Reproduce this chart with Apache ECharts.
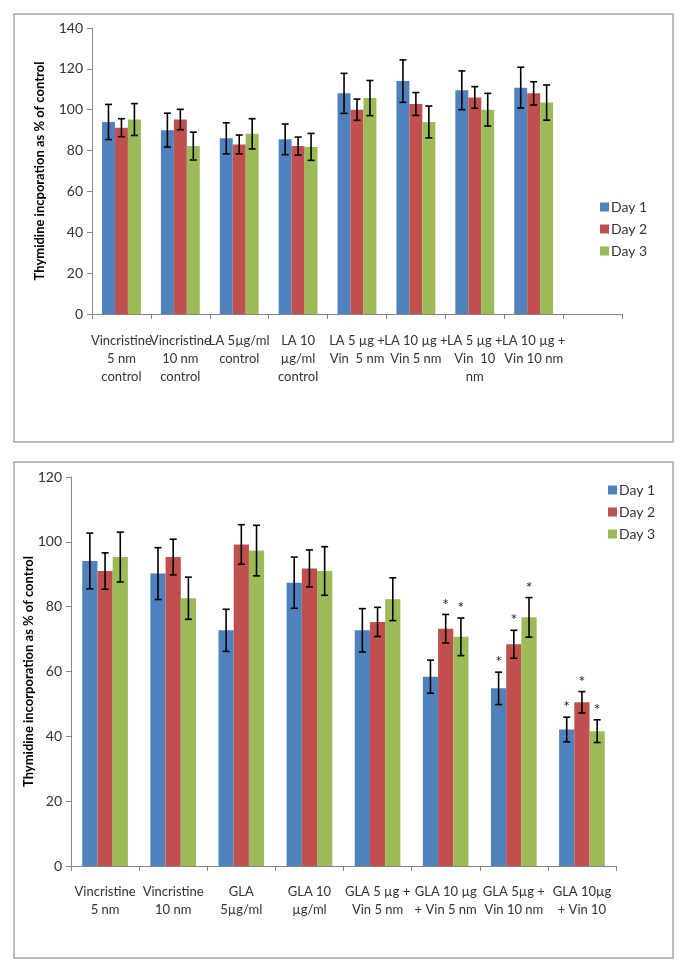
<!DOCTYPE html>
<html>
<head>
<meta charset="utf-8">
<script src="https://cdn.jsdelivr.net/npm/echarts@6/dist/echarts.min.js"></script>
<style>
html,body{margin:0;padding:0;background:#fff;}
#c{width:685px;height:971px;}
</style>
</head>
<body>
<div id="c"></div>
<script>
// ---------- Top chart (LA) ----------
const topCategories = [
  'Vincristine\n5 nm\ncontrol', 'Vincristine\n10 nm\ncontrol', 'LA 5µg/ml\ncontrol', 'LA 10\nµg/ml\ncontrol',
  'LA 5 µg +\nVin  5 nm', 'LA 10 µg +\nVin 5 nm', 'LA 5 µg +\nVin  10\nnm', 'LA 10 µg +\nVin 10 nm', ''
];
const topDay1 = [94, 90, 86, 85.5, 108, 114, 109.5, 110.8];
const topDay2 = [91.2, 95.2, 83, 82.2, 100, 102.8, 106, 108];
const topDay3 = [95.2, 82.2, 88.2, 81.8, 105.7, 94, 100, 103.5];
const topDay1Err = [8.6, 8.3, 7.6, 7.5, 9.8, 10.4, 9.5, 10];
const topDay2Err = [4.4, 5, 4.6, 4.4, 5.2, 5.6, 5.3, 5.7];
const topDay3Err = [7.8, 6.8, 7.4, 6.6, 8.6, 7.8, 8, 8.6];
const topTicks = { min: 0, max: 140, interval: 20 };

// ---------- Bottom chart (GLA) ----------
const bottomCategories = [
  'Vincristine\n5 nm', 'Vincristine\n10 nm', 'GLA\n5µg/ml', 'GLA 10\nµg/ml',
  'GLA 5 µg +\nVin 5 nm', 'GLA 10 µg\n+ Vin 5 nm', 'GLA 5µg +\nVin 10 nm', 'GLA 10µg\n+ Vin 10'
];
const bottomDay1 = [94.1, 90.2, 72.7, 87.4, 72.7, 58.4, 54.8, 42.1];
const bottomDay2 = [91, 95.3, 99.2, 91.8, 75.3, 73.2, 68.4, 50.5];
const bottomDay3 = [95.3, 82.6, 97.3, 91, 82.3, 70.7, 76.7, 41.6];
const bottomDay1Err = [8.6, 8, 6.5, 7.9, 6.7, 5.1, 5, 3.8];
const bottomDay2Err = [5.6, 5.5, 6.1, 5.7, 4.5, 4.4, 4.3, 3.3];
const bottomDay3Err = [7.7, 6.5, 7.8, 7.5, 6.6, 5.8, 6.1, 3.5];
const bottomDay1Sig = [0, 0, 0, 0, 0, 0, 1, 1];
const bottomDay2Sig = [0, 0, 0, 0, 0, 1, 1, 1];
const bottomDay3Sig = [0, 0, 0, 0, 0, 1, 1, 1];
const bottomTicks = { min: 0, max: 120, interval: 20 };

const seriesNames = ['Day 1', 'Day 2', 'Day 3'];
const colors = ['#4F81BD', '#C0504D', '#9BBB59'];

const FONT = 'Lato, "Liberation Sans", Arial, sans-serif';
const topGap = 0.34, bottomGap = 0.33;

function barSeries(name, data, gi, gap, color) {
  return {
    name: name, type: 'bar', xAxisIndex: gi, yAxisIndex: gi, data: data,
    barGap: '0%', barCategoryGap: Math.round(gap * 100) + '%',
    itemStyle: { color: color }, z: 2
  };
}

function errSeries(values, errs, sig, k, gi, gap) {
  return {
    type: 'custom', xAxisIndex: gi, yAxisIndex: gi, z: 5, silent: true,
    data: values.map((v, i) => [i, v, errs[i], sig ? sig[i] : 0]),
    renderItem: function (params, api) {
      const i = api.value(0), v = api.value(1), e = api.value(2), s = api.value(3);
      const band = api.size([1, 0])[0];
      const bw = band * (1 - gap) / 3;
      const cx = api.coord([i, v])[0] + (k - 1) * bw;
      const yt = api.coord([i, v + e])[1];
      const yb = api.coord([i, v - e])[1];
      const hc = 3.5;
      const st = { stroke: '#000', lineWidth: 1.6 };
      const children = [
        { type: 'line', shape: { x1: cx, y1: yt, x2: cx, y2: yb }, style: st },
        { type: 'line', shape: { x1: cx - hc, y1: yt, x2: cx + hc, y2: yt }, style: st },
        { type: 'line', shape: { x1: cx - hc, y1: yb, x2: cx + hc, y2: yb }, style: st }
      ];
      if (s) {
        children.push({
          type: 'text',
          style: { x: cx, y: yt - 10, text: '*', fill: '#222', font: '16px ' + FONT, align: 'center', verticalAlign: 'middle' }
        });
      }
      return { type: 'group', children: children };
    }
  };
}

function xAxis(gi, cats, margin) {
  return {
    type: 'category', gridIndex: gi, data: cats,
    axisLine: { lineStyle: { color: '#868686', width: 1 } },
    axisTick: { show: true, alignWithLabel: false, length: 5, lineStyle: { color: '#868686' } },
    axisLabel: { interval: 0, color: '#333', fontSize: 13, fontFamily: FONT, lineHeight: 18, margin: margin }
  };
}
function yAxis(gi, ticks, name, gap) {
  return {
    type: 'value', gridIndex: gi, min: ticks.min, max: ticks.max, interval: ticks.interval,
    name: name, nameLocation: 'middle', nameGap: gap, nameRotate: 90, nameMoveOverlap: false,
    nameTextStyle: { fontWeight: 'bold', fontSize: 13, fontFamily: FONT, color: '#000' },
    axisLine: { show: true, lineStyle: { color: '#868686', width: 1 } },
    axisTick: { show: true, length: 5, lineStyle: { color: '#868686' } },
    splitLine: { show: false },
    axisLabel: { color: '#333', fontSize: 14, fontFamily: FONT, margin: 9 }
  };
}

const chart = echarts.init(document.getElementById('c'), null, { renderer: 'canvas' });
chart.setOption({
  animation: false,
  backgroundColor: '#fff',
  graphic: [
    { type: 'rect', shape: { x: 14, y: 14, width: 659, height: 428 }, style: { fill: 'none', stroke: '#a6a6a6', lineWidth: 1.5 }, z: 0 },
    { type: 'rect', shape: { x: 14, y: 462, width: 659, height: 496 }, style: { fill: 'none', stroke: '#a6a6a6', lineWidth: 1.5 }, z: 0 }
  ],
  legend: [
    { data: seriesNames, orient: 'vertical', left: 595, top: 195, itemWidth: 9, itemHeight: 9, itemGap: 8, icon: 'rect',
      textStyle: { fontSize: 14, fontFamily: FONT, color: '#333', padding: [0, 0, 0, -3] } },
    { data: seriesNames, orient: 'vertical', left: 603, top: 478, itemWidth: 9, itemHeight: 9, itemGap: 8, icon: 'rect',
      textStyle: { fontSize: 14, fontFamily: FONT, color: '#333', padding: [0, 0, 0, -3] } }
  ],
  grid: [
    { left: 92, top: 28, width: 530, height: 286 },
    { left: 71, top: 477, width: 545, height: 389 }
  ],
  xAxis: [xAxis(0, topCategories, 18), xAxis(1, bottomCategories, 17)],
  yAxis: [
    yAxis(0, topTicks, 'Thymidine incporation as % of control', 46),
    yAxis(1, bottomTicks, 'Thymidine incorporation as % of control', 36)
  ],
  series: [
    barSeries(seriesNames[0], topDay1, 0, topGap, colors[0]),
    barSeries(seriesNames[1], topDay2, 0, topGap, colors[1]),
    barSeries(seriesNames[2], topDay3, 0, topGap, colors[2]),
    errSeries(topDay1, topDay1Err, null, 0, 0, topGap),
    errSeries(topDay2, topDay2Err, null, 1, 0, topGap),
    errSeries(topDay3, topDay3Err, null, 2, 0, topGap),
    barSeries(seriesNames[0], bottomDay1, 1, bottomGap, colors[0]),
    barSeries(seriesNames[1], bottomDay2, 1, bottomGap, colors[1]),
    barSeries(seriesNames[2], bottomDay3, 1, bottomGap, colors[2]),
    errSeries(bottomDay1, bottomDay1Err, bottomDay1Sig, 0, 1, bottomGap),
    errSeries(bottomDay2, bottomDay2Err, bottomDay2Sig, 1, 1, bottomGap),
    errSeries(bottomDay3, bottomDay3Err, bottomDay3Sig, 2, 1, bottomGap)
  ]
});
</script>
</body>
</html>
